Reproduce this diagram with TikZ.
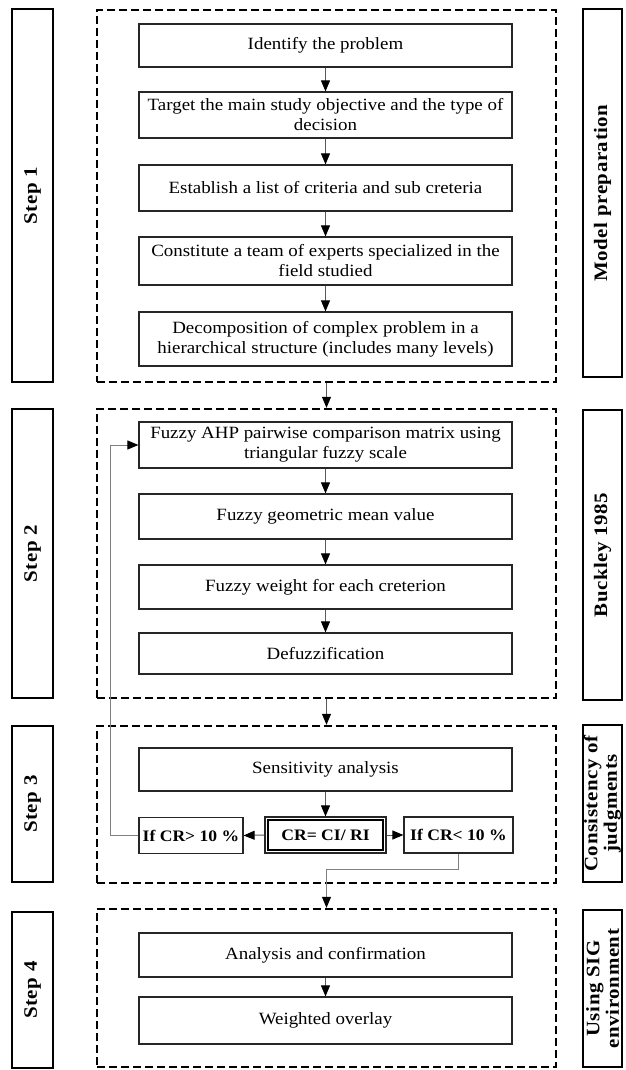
\documentclass[tikz,border=0pt]{standalone}
\usepackage{fontspec}
\setmainfont{Liberation Serif}[FakeStretch=1.1]
\usetikzlibrary{arrows.meta}
\begin{document}
\begin{tikzpicture}[x=1pt,y=-1pt,
  box/.style={draw=black!85,line width=1.2pt,inner sep=0pt,align=center,
    font=\fontsize{17.2}{20}\selectfont,minimum width=373pt},
  sidebox/.style={draw=black,line width=2.3pt,inner sep=0pt,align=center,
    font=\fontsize{19}{19.5}\selectfont\bfseries\addfontfeature{LetterSpace=3},rotate=90},
  stage/.style={draw=black,line width=2.4pt,dash pattern=on 8pt off 4pt,
    inner sep=0pt,minimum width=459pt},
  cond/.style={draw=black!85,line width=1.2pt,inner sep=0pt,align=center,
    font=\fontsize{16}{18}\selectfont\bfseries,minimum height=36pt},
  flow/.style={draw=black!65,line width=1pt,
    -{Triangle[length=11pt,width=9pt,color=black]}},
  fb/.style={draw=black!50,line width=1pt,
    -{Triangle[length=11pt,width=9pt,color=black]}}
]
\useasboundingbox (0,0) rectangle (625,1070);
\fill[white] (0,0) rectangle (625,1070);

% side labels (left)
\node[sidebox,minimum width=373pt,minimum height=41pt] (s1) at (32.5,195.5) {Step 1};
\node[sidebox,minimum width=289pt,minimum height=41pt] (s2) at (32.5,553.5) {Step 2};
\node[sidebox,minimum width=156pt,minimum height=41pt] (s3) at (32.5,804) {Step 3};
\node[sidebox,minimum width=156pt,minimum height=41pt] (s4) at (32.5,990) {Step 4};

% side labels (right)
\node[sidebox,minimum width=368pt,minimum height=39pt] (r1) at (602.5,193) {Model preparation};
\node[sidebox,minimum width=290pt,minimum height=39pt] (r2) at (602.5,555) {Buckley 1985};
\node[sidebox,minimum width=157pt,minimum height=39pt] (r3) at (602.5,803.5) {Consistency of\\judgments};
\node[sidebox,minimum width=157pt,minimum height=39pt] (r4) at (602.5,988.5) {Using SIG\\environment};

% dashed stage frames
\node[stage,minimum height=372pt] (d1) at (326.5,196) {};
\node[stage,minimum height=289pt] (d2) at (326.5,553.5) {};
\node[stage,minimum height=157pt] (d3) at (326.5,804.5) {};
\node[stage,minimum height=158pt] (d4) at (326.5,988) {};

% step 1
\node[box,minimum height=43pt] (n1) at (325.5,45.5) {Identify the problem};
\node[box,minimum height=46pt] (n2) at (325.5,115) {Target the main study objective and the type of\\decision};
\node[box,minimum height=46pt] (n3) at (325.5,188) {Establish a list of criteria and sub creteria};
\node[box,minimum height=48pt] (n4) at (325.5,261) {Constitute a team of experts specialized in the\\field studied};
\node[box,minimum height=54pt] (n5) at (325.5,339) {Decomposition of complex problem in a\\hierarchical structure (includes many levels)};

% step 2
\node[box,minimum height=46pt] (m1) at (325.5,445) {Fuzzy AHP pairwise comparison matrix using\\triangular fuzzy scale};
\node[box,minimum height=45pt] (m2) at (325.5,516.5) {Fuzzy geometric mean value};
\node[box,minimum height=44pt] (m3) at (325.5,587) {Fuzzy weight for each creterion};
\node[box,minimum height=41pt] (m4) at (325.5,653.5) {Defuzzification};

% step 3
\node[box,minimum height=43pt] (sa) at (325.5,769.5) {Sensitivity analysis};
\node[cond,minimum width=104pt] (ifgt) at (191,835.5) {If CR> 10 \%};
\node[cond,minimum width=121pt] (cr) at (325.5,835) {CR= CI/ RI};
\node[cond,minimum width=109pt] (iflt) at (458.5,835) {If CR< 10 \%};
\draw[line width=1.8pt,black] ([shift={(3.5,-3.5)}]cr.south west) rectangle ([shift={(-3.5,3.5)}]cr.north east);

% step 4
\node[box,minimum height=44pt] (a1) at (325.5,955) {Analysis and confirmation};
\node[box,minimum height=47pt] (a2) at (325.5,1020.5) {Weighted overlay};

% connectors
\draw[flow] (n1.south) -- (n2.north);
\draw[flow] (n2.south) -- (n3.north);
\draw[flow] (n3.south) -- (n4.north);
\draw[flow] (n4.south) -- (n5.north);
\draw[flow] (d1.south) -- (d2.north);
\draw[flow] (m1.south) -- (m2.north);
\draw[flow] (m2.south) -- (m3.north);
\draw[flow] (m3.south) -- (m4.north);
\draw[flow] (d2.south) -- (d3.north);
\draw[flow] (sa.south) -- (cr.north);
\draw[flow] (cr.west) -- (ifgt.east);
\draw[flow] (cr.east) -- (iflt.west);
\draw[fb] (ifgt.west) -- ++(-28,0) |- (m1.west);
\draw[fb] (iflt.south) -- ++(0,16) -| (d4.north);
\draw[flow] (a1.south) -- (a2.north);
\end{tikzpicture}
\end{document}
